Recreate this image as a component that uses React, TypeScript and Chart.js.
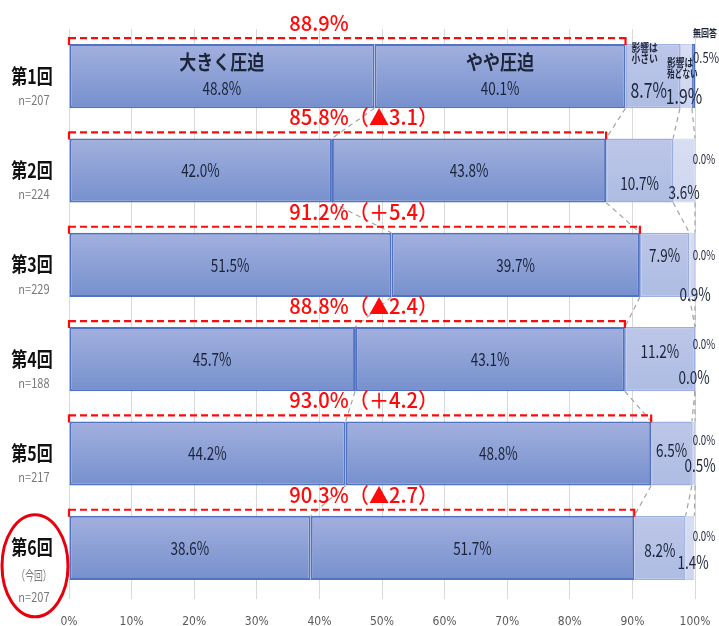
import React, { useEffect, useRef } from "react";
import { Chart, registerables } from "chart.js";
Chart.register(...registerables);

// ---------- data ----------
const rounds = ["第1回", "第2回", "第3回", "第4回", "第5回", "第6回"];
const sampleSizes = ["n=207", "n=224", "n=229", "n=188", "n=217", "n=207"];
const seriesNames = ["大きく圧迫", "やや圧迫", "影響は小さい", "影響は殆どない", "無回答"];
const greatly = [48.8, 42.0, 51.5, 45.7, 44.2, 38.6];
const somewhat = [40.1, 43.8, 39.7, 43.1, 48.8, 51.7];
const small = [8.7, 10.7, 7.9, 11.2, 6.5, 8.2];
const hardly = [1.9, 3.6, 0.9, 0.0, 0.5, 1.4];
const noAnswer = [0.5, 0.0, 0.0, 0.0, 0.0, 0.0];
const xTickValues = [0, 10, 20, 30, 40, 50, 60, 70, 80, 90, 100];
const currentNote = "（今回）";

// ---------- styles ----------
const FONT = '"Noto Sans CJK JP", "Noto Sans", sans-serif';
const LABEL_COLOR = "#1c2438";
const RED = "#ff0a0a";
const seg3Dy = [0, 13, -10, -8, -3, 2];
const seg4Dx = [-11, -11, 0, -1, 5, -2];
const seg4Dy = [20, 22, 29, 18, 12, 14];
const seg5Dy = [-19, -11, -10, -15, -13, -12];

const allSeries = [greatly, somewhat, small, hardly, noAnswer];

function txt(ctx: CanvasRenderingContext2D, s: string, x: number, y: number, size: number, color: string, o: { bold?: boolean | string; align?: CanvasTextAlign; sx?: number } = {}) {
  ctx.save();
  const w = o.bold === true ? "bold " : typeof o.bold === "string" ? o.bold + " " : "";
  ctx.font = `${w}${size}px ${FONT}`;
  ctx.fillStyle = color;
  ctx.textBaseline = "middle";
  ctx.textAlign = o.align || "center";
  ctx.translate(x, y);
  ctx.scale(o.sx ?? 0.75, 1);
  ctx.fillText(s, 0, 0);
  ctx.restore();
}

function grad(top: string, bottom: string) {
  return (c: any) => {
    const chart = c.chart;
    const ys = chart.scales && chart.scales.y;
    if (!ys || c.dataIndex == null) return bottom;
    const cy = ys.getPixelForValue(c.dataIndex);
    if (!Number.isFinite(cy)) return bottom;
    const h = 32;
    const g = chart.ctx.createLinearGradient(0, cy - h, 0, cy + h);
    g.addColorStop(0, top);
    g.addColorStop(1, bottom);
    return g;
  };
}

function barGeom(chart: any, i: number) {
  const el = chart.getDatasetMeta(0).data[i];
  const p = el.getProps(["y", "height"], true);
  return { cy: p.y, top: p.y - p.height / 2, bottom: p.y + p.height / 2 };
}

function cum(i: number, k: number) {
  let s = 0;
  for (let j = 0; j < k; j++) s += allSeries[j][i];
  return s;
}

const fmt = (v: number) => v.toFixed(1) + "%";

const decor = {
  id: "decor",
  beforeDatasetsDraw(chart: any) {
    const ctx = chart.ctx as CanvasRenderingContext2D;
    const xs = chart.scales.x;
    ctx.save();
    ctx.strokeStyle = "#a3a3a3";
    ctx.lineWidth = 1.2;
    ctx.setLineDash([5, 4]);
    for (let i = 0; i < rounds.length - 1; i++) {
      const a = barGeom(chart, i);
      const b = barGeom(chart, i + 1);
      for (let k = 1; k <= 4; k++) {
        ctx.beginPath();
        ctx.moveTo(xs.getPixelForValue(Math.min(cum(i, k), 100)), a.bottom);
        ctx.lineTo(xs.getPixelForValue(Math.min(cum(i + 1, k), 100)), b.top);
        ctx.stroke();
      }
    }
    ctx.restore();
  },
  afterDatasetsDraw(chart: any) {
    const ctx = chart.ctx as CanvasRenderingContext2D;
    const xs = chart.scales.x;
    const x100 = xs.getPixelForValue(100);
    for (let i = 0; i < rounds.length; i++) {
      const g = barGeom(chart, i);
      const total = greatly[i] + somewhat[i];
      const x0 = xs.getPixelForValue(0);
      const x1 = xs.getPixelForValue(total);
      const by = g.top - 6;
      ctx.save();
      ctx.strokeStyle = RED;
      ctx.lineWidth = 2.2;
      ctx.setLineDash([7, 4]);
      ctx.beginPath();
      ctx.moveTo(x0, by);
      ctx.lineTo(x1, by);
      ctx.stroke();
      ctx.setLineDash([]);
      ctx.beginPath();
      ctx.moveTo(x0, by - 1);
      ctx.lineTo(x0, g.top + 1);
      ctx.moveTo(x1, by - 1);
      ctx.lineTo(x1, g.top + 1);
      ctx.stroke();
      ctx.restore();
      let lab = total.toFixed(1) + "%";
      if (i > 0) {
        const d = total - (greatly[i - 1] + somewhat[i - 1]);
        lab += "（" + (d < 0 ? "▲" : "＋") + Math.abs(d).toFixed(1) + "）";
      }
      txt(ctx, lab, xs.getPixelForValue(35.2), g.top - 21, 21, RED, { bold: "500", align: "left", sx: 0.96 });

      const c1 = xs.getPixelForValue(greatly[i] / 2);
      const c2 = xs.getPixelForValue(greatly[i] + somewhat[i] / 2);
      const c3 = xs.getPixelForValue(total + small[i] / 2);
      if (i === 0) {
        txt(ctx, seriesNames[0], c1, g.cy - 14, 20, LABEL_COLOR, { bold: true, sx: 0.85 });
        txt(ctx, fmt(greatly[i]), c1, g.cy + 12, 18, LABEL_COLOR);
        txt(ctx, seriesNames[1], c2, g.cy - 14, 20, LABEL_COLOR, { bold: true, sx: 0.85 });
        txt(ctx, fmt(somewhat[i]), c2, g.cy + 12, 18, LABEL_COLOR);
        const s3x = xs.getPixelForValue(total) + 6;
        txt(ctx, "影響は", s3x, g.cy - 28, 11, LABEL_COLOR, { bold: true, align: "left", sx: 0.8 });
        txt(ctx, "小さい", s3x, g.cy - 17, 11, LABEL_COLOR, { bold: true, align: "left", sx: 0.8 });
        txt(ctx, fmt(small[i]), c3 - 4, g.cy + 14, 21, LABEL_COLOR);
        txt(ctx, "影響は", x100 - 28, g.cy - 13, 11, LABEL_COLOR, { bold: true, align: "left", sx: 0.8 });
        txt(ctx, "殆どない", x100 - 28, g.cy - 2, 11, LABEL_COLOR, { bold: true, align: "left", sx: 0.7 });
        txt(ctx, fmt(hardly[i]), x100 + seg4Dx[i], g.cy + seg4Dy[i], 21, LABEL_COLOR);
        txt(ctx, seriesNames[4], x100 + 10, g.cy - 43, 10, LABEL_COLOR, { bold: true, sx: 0.8 });
        txt(ctx, fmt(noAnswer[i]), x100 + 11, g.cy + seg5Dy[i], 15, LABEL_COLOR);
      } else {
        txt(ctx, fmt(greatly[i]), c1, g.cy, 18, LABEL_COLOR);
        txt(ctx, fmt(somewhat[i]), c2, g.cy, 18, LABEL_COLOR);
        txt(ctx, fmt(small[i]), c3, g.cy + seg3Dy[i], 18, LABEL_COLOR);
        txt(ctx, fmt(hardly[i]), x100 + seg4Dx[i], g.cy + seg4Dy[i], 18, LABEL_COLOR);
        txt(ctx, fmt(noAnswer[i]), x100 + 9, g.cy + seg5Dy[i], 13, LABEL_COLOR);
      }
    }
  },
  afterDraw(chart: any) {
    const ctx = chart.ctx as CanvasRenderingContext2D;
    for (let i = 0; i < rounds.length; i++) {
      const g = barGeom(chart, i);
      txt(ctx, rounds[i], 32, g.cy, 20, "#111111", { bold: true, sx: 0.8 });
      if (i === rounds.length - 1) {
        txt(ctx, currentNote, 34, g.cy + 27, 13, "#7a7a7a", { sx: 0.68 });
        txt(ctx, sampleSizes[i], 34, g.cy + 49, 13, "#7a7a7a", { sx: 0.85 });
        ctx.save();
        ctx.strokeStyle = "#e8000f";
        ctx.lineWidth = 3;
        ctx.beginPath();
        ctx.ellipse(35, g.cy + 18, 33, 51, 0, 0, Math.PI * 2);
        ctx.stroke();
        ctx.restore();
      } else {
        txt(ctx, sampleSizes[i], 34, g.cy + 24, 13, "#7a7a7a", { sx: 0.85 });
      }
    }
  },
};

export default function App() {
  const ref = useRef<HTMLCanvasElement>(null);
  useEffect(() => {
    if (!ref.current) return;
    const chart = new Chart(ref.current, {
      type: "bar",
      data: {
        labels: rounds,
        datasets: [
          { label: seriesNames[0], data: greatly, backgroundColor: grad("#a2b0de", "#7690cd"), borderColor: "#5272c2", borderWidth: 2, borderSkipped: false },
          { label: seriesNames[1], data: somewhat, backgroundColor: grad("#a2b0de", "#7690cd"), borderColor: "#5272c2", borderWidth: 2, borderSkipped: false },
          { label: seriesNames[2], data: small, backgroundColor: grad("#bcc6e8", "#aebce3"), borderColor: "#9cafde", borderWidth: 1.5, borderSkipped: false },
          { label: seriesNames[3], data: hardly, backgroundColor: grad("#d8def2", "#cdd5ef"), borderColor: "#c3cdeb", borderWidth: 1, borderSkipped: false },
          { label: seriesNames[4], data: noAnswer, backgroundColor: "#7d95d2", borderColor: "#4f6fbf", borderWidth: 1, borderSkipped: false },
        ] as any,
      },
      options: {
        indexAxis: "y",
        responsive: false,
        animation: false,
        devicePixelRatio: 1,
        layout: { padding: { left: 69, right: 24, top: 29, bottom: 0 } },
        datasets: { bar: { categoryPercentage: 0.68, barPercentage: 1 } },
        plugins: { legend: { display: false }, tooltip: { enabled: false } },
        scales: {
          y: { stacked: true, display: false },
          x: {
            stacked: true,
            min: 0,
            max: 100,
            afterBuildTicks: (s: any) => { s.ticks = xTickValues.map((v) => ({ value: v })); },
            afterFit: (s: any) => { s.height = 31; s.paddingLeft = 0; s.paddingRight = 0; },
            ticks: {
              padding: 17,
              color: "#595959",
              font: { size: 12, family: '"Liberation Sans Narrow", "DejaVu Sans Condensed", "Noto Sans", sans-serif', lineHeight: 1 },
              callback: (v: any) => v + "%",
            },
            grid: { color: "#d9d9d9", tickLength: 4, lineWidth: 1 },
            border: { display: false },
          },
        },
      } as any,
      plugins: [decor],
    });
    return () => chart.destroy();
  }, []);
  return (
    <div style={{ position: "absolute", left: 0, top: 0, width: 719, height: 626, background: "#fff" }}>
      <canvas ref={ref} width={719} height={626} />
    </div>
  );
}
